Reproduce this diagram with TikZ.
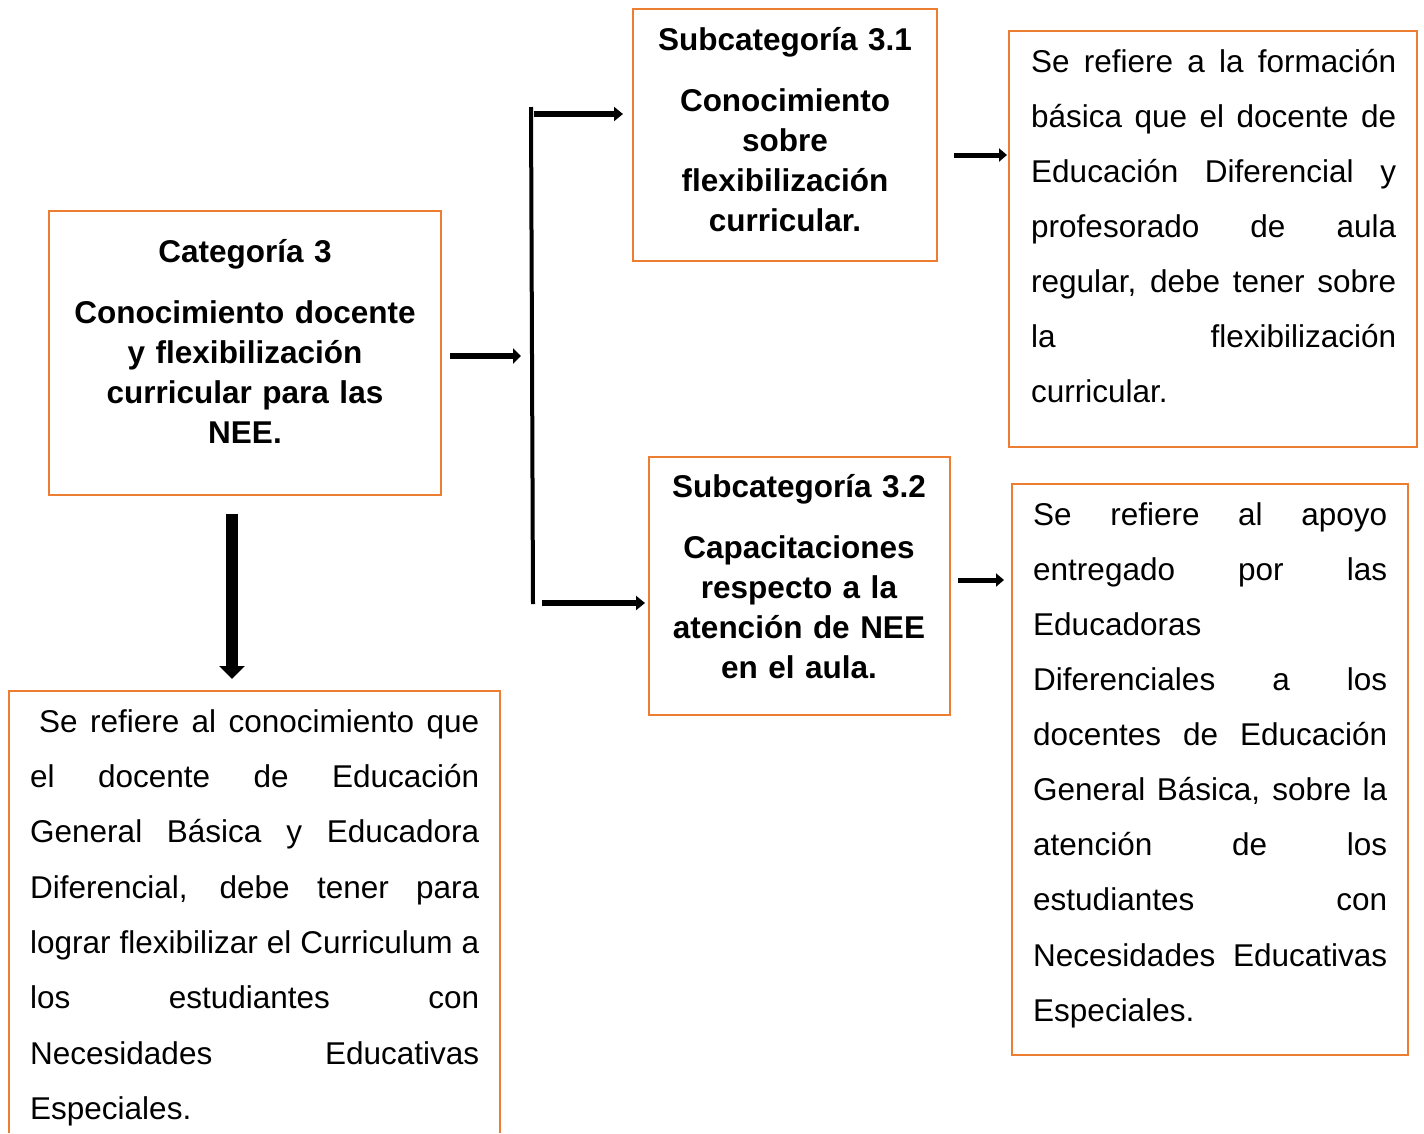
\documentclass[tikz,border=0pt]{standalone}
\usepackage{fontspec}
\setmainfont{Liberation Sans}
\usetikzlibrary{arrows.meta}
\setlength{\parindent}{0pt}
\newlength{\jw}
\newcommand{\J}[1]{\leavevmode{\spaceskip=\fontdimen2\font plus 1fil\relax\hbox to \jw{#1}}}
\newcommand{\tstrut}{\rule{0pt}{30pt}}
\definecolor{orng}{RGB}{237,125,49}
\begin{document}
\begin{tikzpicture}[x=1pt,y=-1pt,
  box/.style={draw=orng,line width=2.5pt,inner sep=0pt,outer sep=0pt,anchor=north west},
  openbox/.style={inner sep=0pt,outer sep=0pt,anchor=north west},
  btext/.style={inner sep=0pt,anchor=north,align=center,text width=#1,
    font=\fontsize{31.5pt}{40pt}\selectfont\bfseries},
  jtext/.style={inner sep=0pt,anchor=north west,align=left,text width=#1},
  bar/.style={line width=4pt},
  arrA/.style={line width=6pt,-{Triangle[length=8pt,width=15pt]}},
  arrB/.style={line width=6pt,-{Triangle[length=9pt,width=14pt]}},
  arrC/.style={line width=5pt,-{Triangle[length=8pt,width=13pt]}},
  arrD/.style={line width=12pt,-{Triangle[length=13pt,width=25pt]}}]
\useasboundingbox (0,0) rectangle (1424,1133);
\fill[white] (0,0) rectangle (1424,1133);

% boxes
\node[box,minimum width=392pt,minimum height=284pt] (cat) at (49,211) {};
\node[box,minimum width=304pt,minimum height=252pt] (sub1) at (633,9) {};
\node[box,minimum width=301pt,minimum height=258pt] (sub2) at (649,457) {};
\node[box,minimum width=408pt,minimum height=416pt] (d1) at (1009,31) {};
\node[box,minimum width=396pt,minimum height=571pt] (d2) at (1012,484) {};
\node[openbox,minimum width=491pt,minimum height=442pt] (d0) at (9,691) {};
\draw[orng,line width=2.5pt] (d0.south west) |- (d0.north east) -- (d0.south east);

% bold texts
\node[btext=380pt] (catT) at (245,232) {\tstrut Categoría 3\\[21pt]
  Conocimiento docente\\ y flexibilización\\ curricular para las\\ NEE.};
\node[btext=300pt] (sub1T) at (785,20) {\tstrut Subcategoría 3.1\\[21pt]
  Conocimiento\\ sobre\\ flexibilización\\ curricular.};
\node[btext=300pt] (sub2T) at (799,467) {\tstrut Subcategoría 3.2\\[21pt]
  Capacitaciones\\ respecto a la\\ atención de NEE\\ en el aula.};

% justified texts
\setlength{\jw}{365pt}
\node[jtext=365pt,font=\fontsize{31.5pt}{55pt}\selectfont] (d1T) at (1031,42) {%
\tstrut\J{Se refiere a la formación}\\
\J{básica que el docente de}\\
\J{Educación Diferencial y}\\
\J{profesorado de aula}\\
\J{regular, debe tener sobre}\\
\J{la flexibilización}\\
curricular.};

\setlength{\jw}{354pt}
\node[jtext=354pt,font=\fontsize{31.5pt}{55.1pt}\selectfont] (d2T) at (1033,495) {%
\tstrut\J{Se refiere al apoyo}\\
\J{entregado por las}\\
Educadoras\\
\J{Diferenciales a los}\\
\J{docentes de Educación}\\
\J{General Básica, sobre la}\\
\J{atención de los}\\
\J{estudiantes con}\\
\J{Necesidades Educativas}\\
Especiales.};

\setlength{\jw}{449pt}
\node[jtext=449pt,font=\fontsize{31.5pt}{55.3pt}\selectfont] (d0T) at (30,702) {%
\tstrut\J{\hspace*{9pt}Se refiere al conocimiento que}\\
\J{el docente de Educación}\\
\J{General Básica y Educadora}\\
\J{Diferencial, debe tener para}\\
\J{lograr flexibilizar el Curriculum a}\\
\J{los estudiantes con}\\
\J{Necesidades Educativas}\\
Especiales.};

% connectors
\coordinate (jt) at (531,107);
\coordinate (jb) at (533,604);
\draw[arrA] ([shift={(9,3)}]cat.east) -- ++(71,0);
\draw[bar] (jt) -- (jb);
\draw[arrB] ([shift={(3,7)}]jt) -- ([shift={(-10,-21)}]sub1.west);
\draw[arrB] ([shift={(9,-1)}]jb) -- ([shift={(-4,17)}]sub2.west);
\draw[arrC] ([shift={(17,20)}]sub1.east) -- ([shift={(-2,-84)}]d1.west);
\draw[arrC] ([shift={(8,-6)}]sub2.east) -- ([shift={(-8,-189.5)}]d2.west);
\draw[arrD] ([shift={(-13,19)}]cat.south) -- ([shift={(-22.5,-12)}]d0.north);
\end{tikzpicture}
\end{document}
